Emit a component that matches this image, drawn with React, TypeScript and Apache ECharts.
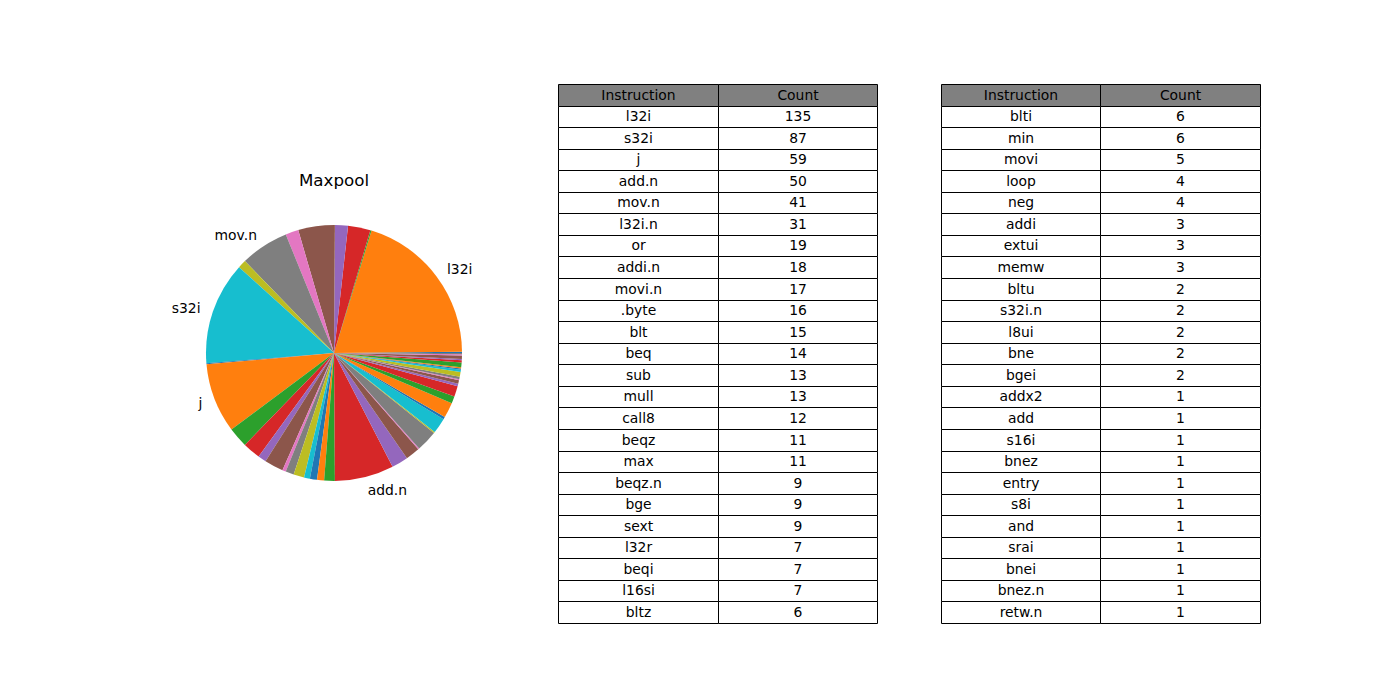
import React, { useEffect, useRef } from "react";
import * as echarts from "echarts";

// Table rows, in the order displayed (sorted by count)
const instructions = [
  "l32i", "s32i", "j", "add.n", "mov.n", "l32i.n", "or", "addi.n", "movi.n", ".byte", "blt", "beq",
  "sub", "mull", "call8", "beqz", "max", "beqz.n", "bge", "sext", "l32r", "beqi", "l16si", "bltz",
  "blti", "min", "movi", "loop", "neg", "addi", "extui", "memw", "bltu", "s32i.n", "l8ui", "bne",
  "bgei", "addx2", "add", "s16i", "bnez", "entry", "s8i", "and", "srai", "bnei", "bnez.n", "retw.n",
];
const counts = [
  135, 87, 59, 50, 41, 31, 19, 18, 17, 16, 15, 14,
  13, 13, 12, 11, 11, 9, 9, 9, 7, 7, 7, 6,
  6, 6, 5, 4, 4, 3, 3, 3, 2, 2, 2, 2,
  2, 1, 1, 1, 1, 1, 1, 1, 1, 1, 1, 1,
];

// Order of the slices in the pie (counter-clockwise from 3 o'clock)
const pieOrder = [
  "entry", "l32i", "bnez", "or", "beqz", "l32i.n", "max", "mov.n", "l32r", "s32i",
  "addx2", "j", "movi.n", "blt", "beqi", ".byte", "addi", "l16si", "bge", "movi",
  "bltz", "blti", "beqz.n", "add.n", "beq", "call8", "add", "addi.n", "s16i", "sub",
  "bltu", "mull", "min", "sext", "s32i.n", "extui", "s8i", "l8ui", "loop", "bne",
  "and", "srai", "neg", "bgei", "bnei", "memw", "bnez.n", "retw.n",
];

const tableHeader = ["Instruction", "Count"];
const rowsPerTable = 24;
const chartTitle = "Maxpool";
const labelMinShare = 0.05;

const palette = [
  "#1f77b4", "#ff7f0e", "#2ca02c", "#d62728", "#9467bd",
  "#8c564b", "#e377c2", "#7f7f7f", "#bcbd22", "#17becf",
];

const FONT = "DejaVu Sans";

export default function App() {
  const ref = useRef<HTMLDivElement>(null);

  useEffect(() => {
    if (!ref.current) return;
    const chart = echarts.init(ref.current, null, { renderer: "svg" });

    const countOf = new Map<string, number>();
    instructions.forEach((n, i) => countOf.set(n, counts[i]));
    const total = counts.reduce((a, b) => a + b, 0);
    const pieData = pieOrder.map((name) => {
      const v = countOf.get(name) ?? 0;
      return { name, value: v, label: { show: v / total >= labelMinShare } };
    });

    // Tables layout: column edges for each table
    const tableCols = [
      [558, 718, 877],
      [941, 1100, 1260],
    ];
    const top = 84;
    const rowH = 21.56;
    const graphics: any[] = [];

    graphics.push({
      type: "text",
      x: 334,
      y: 180,
      silent: true,
      style: {
        text: chartTitle,
        align: "center",
        verticalAlign: "middle",
        fontSize: 16.7,
        fontFamily: FONT,
        fill: "#000",
      },
    });

    tableCols.forEach((cols, t) => {
      const rows: string[][] = [tableHeader];
      for (let i = 0; i < rowsPerTable; i++) {
        const idx = t * rowsPerTable + i;
        if (idx < instructions.length) rows.push([instructions[idx], String(counts[idx])]);
      }
      rows.forEach((row, r) => {
        const y0 = Math.round(top + r * rowH) + 0.5;
        const y1 = Math.round(top + (r + 1) * rowH) + 0.5;
        row.forEach((cell, c) => {
          const x0 = cols[c] + 0.5;
          const x1 = cols[c + 1] + 0.5;
          graphics.push({
            type: "rect",
            silent: true,
            shape: { x: x0, y: y0, width: x1 - x0, height: y1 - y0 },
            style: { fill: r === 0 ? "#808080" : "#ffffff", stroke: "#000", lineWidth: 1 },
          });
          graphics.push({
            type: "text",
            silent: true,
            x: (x0 + x1) / 2,
            y: (y0 + y1) / 2 - 1,
            style: {
              text: cell,
              align: "center",
              verticalAlign: "middle",
              fontSize: 13.9,
              fontFamily: FONT,
              fill: "#000",
            },
          });
        });
      });
    });

    chart.setOption({
      animation: false,
      color: palette,
      textStyle: { fontFamily: FONT },
      graphic: graphics,
      series: [
        {
          type: "pie",
          center: [334, 353],
          radius: 128,
          startAngle: 0,
          clockwise: false,
          avoidLabelOverlap: false,
          minAngle: 0,
          data: pieData,
          itemStyle: { borderWidth: 0 },
          emphasis: { disabled: true },
          label: {
            position: "outside",
            formatter: "{b}",
            fontSize: 13.9,
            fontFamily: FONT,
            color: "#000",
            distanceToLabelLine: 0,
          },
          labelLine: { show: false, length: 13, length2: 0 },
        },
      ],
    });

    return () => chart.dispose();
  }, []);

  return (
    <div
      ref={ref}
      style={{ position: "absolute", left: 0, top: 0, width: 1400, height: 700, background: "#fff" }}
    />
  );
}
